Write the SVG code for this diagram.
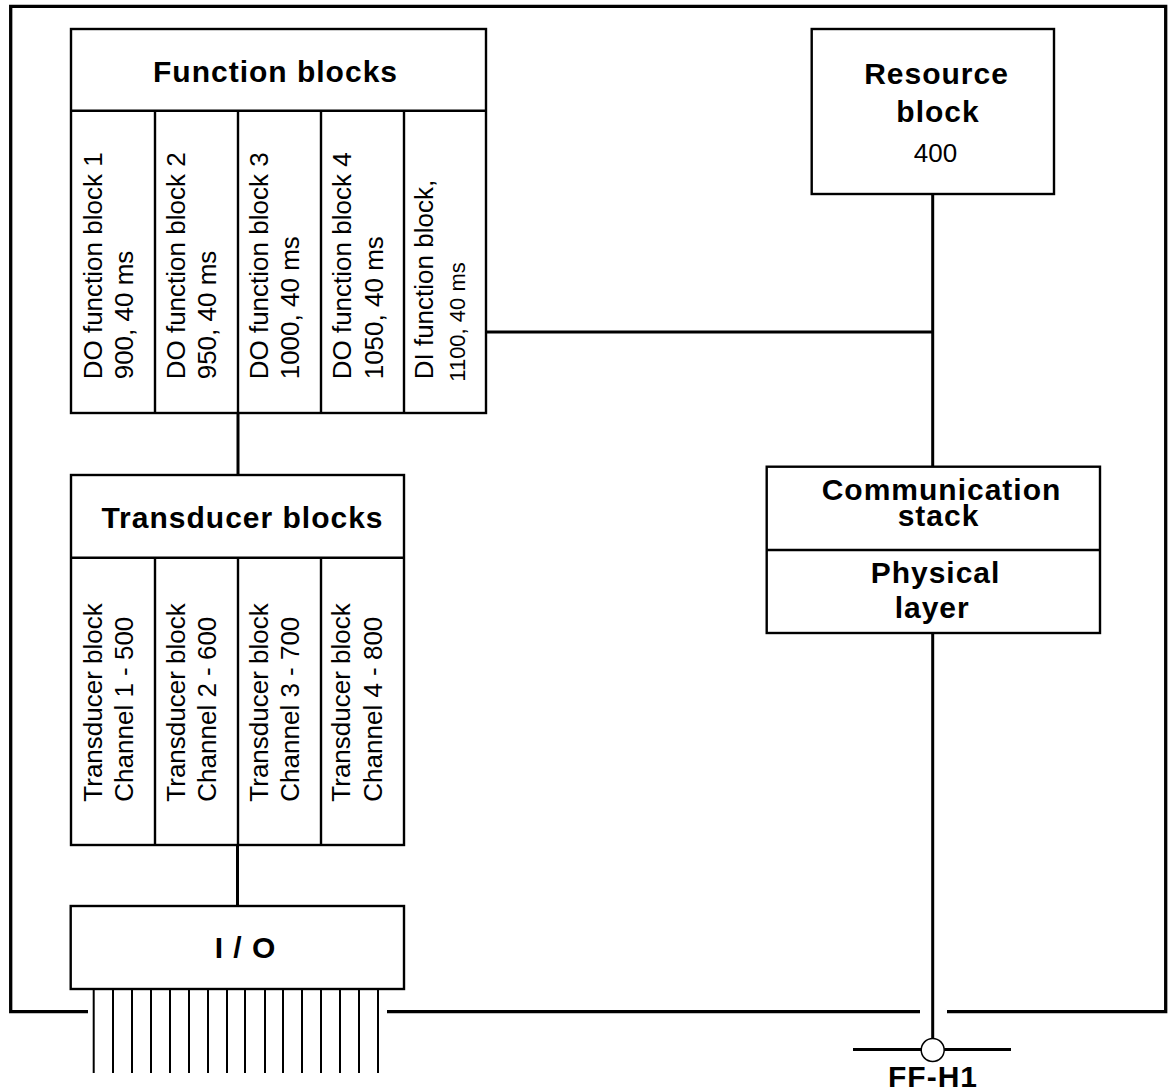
<svg xmlns="http://www.w3.org/2000/svg" width="1169" height="1090" viewBox="0 0 1169 1090">
<style>
.box{fill:#fff;stroke:#000;stroke-width:2.4}
.div{stroke:#000;stroke-width:2.4;fill:none}
.frame{stroke:#000;stroke-width:3.3;fill:none}
.con{stroke:#000;stroke-width:3;fill:none}
.pin{stroke:#000;stroke-width:2}
.h{font-family:"Liberation Sans",Arial,sans-serif;font-weight:bold;font-size:30px;letter-spacing:1px;fill:#000}
.t{font-family:"Liberation Sans",Arial,sans-serif;font-size:26px;fill:#000}
.s{font-family:"Liberation Sans",Arial,sans-serif;font-size:22px;fill:#000}
</style>
<rect width="1169" height="1090" fill="#fff"/>
<g id="frame">
<path class="frame" d="M88,1011.7 H10.7 V6.3 H1165.7 V1011.7 H947"/>
<path class="frame" d="M387,1011.7 H920"/>
</g>
<g id="connectors">
<line class="con" x1="238" y1="413" x2="238" y2="475"/>
<line class="con" x1="237.5" y1="845" x2="237.5" y2="906"/>
<line class="con" x1="486" y1="332" x2="932.7" y2="332"/>
<line class="con" x1="932.7" y1="194" x2="932.7" y2="467"/>
<line class="con" x1="932.7" y1="633" x2="932.7" y2="1038.5"/>
</g>
<g id="function-blocks">
<rect class="box" x="71" y="29" width="415" height="384"/>
<line class="div" x1="71" y1="110.7" x2="486" y2="110.7"/>
<line class="div" x1="155" y1="110.7" x2="155" y2="413"/>
<line class="div" x1="238" y1="110.7" x2="238" y2="413"/>
<line class="div" x1="321" y1="110.7" x2="321" y2="413"/>
<line class="div" x1="404" y1="110.7" x2="404" y2="413"/>
<text class="h" x="275.5" y="81.7" text-anchor="middle">Function blocks</text>
<text class="t" transform="translate(101.7,379.3) rotate(-90)">DO function block 1</text>
<text class="t" transform="translate(132.7,379.3) rotate(-90)">900, 40 ms</text>
<text class="t" transform="translate(185,379.3) rotate(-90)">DO function block 2</text>
<text class="t" transform="translate(216,379.3) rotate(-90)">950, 40 ms</text>
<text class="t" transform="translate(268,379.3) rotate(-90)">DO function block 3</text>
<text class="t" transform="translate(299,379.3) rotate(-90)">1000, 40 ms</text>
<text class="t" transform="translate(351,379.3) rotate(-90)">DO function block 4</text>
<text class="t" transform="translate(382.7,379.3) rotate(-90)">1050, 40 ms</text>
<text class="t" transform="translate(433,379.3) rotate(-90)">DI function block,</text>
<text class="s" transform="translate(465,381.7) rotate(-90)">1100, 40 ms</text>
</g>
<g id="transducer-blocks">
<rect class="box" x="71" y="475" width="333" height="370"/>
<line class="div" x1="71" y1="557.7" x2="404" y2="557.7"/>
<line class="div" x1="155" y1="557.7" x2="155" y2="845"/>
<line class="div" x1="238" y1="557.7" x2="238" y2="845"/>
<line class="div" x1="321" y1="557.7" x2="321" y2="845"/>
<text class="h" x="242.5" y="528.3" text-anchor="middle">Transducer blocks</text>
<text class="t" transform="translate(101.7,801.7) rotate(-90)">Transducer block</text>
<text class="t" transform="translate(132.7,801.7) rotate(-90)">Channel 1 - 500</text>
<text class="t" transform="translate(185,801.7) rotate(-90)">Transducer block</text>
<text class="t" transform="translate(216,801.7) rotate(-90)">Channel 2 - 600</text>
<text class="t" transform="translate(268,801.7) rotate(-90)">Transducer block</text>
<text class="t" transform="translate(299,801.7) rotate(-90)">Channel 3 - 700</text>
<text class="t" transform="translate(350,801.7) rotate(-90)">Transducer block</text>
<text class="t" transform="translate(381.7,801.7) rotate(-90)">Channel 4 - 800</text>
</g>
<g id="io">
<rect class="box" x="70.7" y="906" width="333.3" height="83"/>
<text class="h" x="245.5" y="958" text-anchor="middle">I / O</text>
<g class="pin">
<line x1="93.7" y1="989" x2="93.7" y2="1073"/>
<line x1="113" y1="989" x2="113" y2="1073"/>
<line x1="132" y1="989" x2="132" y2="1073"/>
<line x1="151" y1="989" x2="151" y2="1073"/>
<line x1="170" y1="989" x2="170" y2="1073"/>
<line x1="189" y1="989" x2="189" y2="1073"/>
<line x1="208" y1="989" x2="208" y2="1073"/>
<line x1="227" y1="989" x2="227" y2="1073"/>
<line x1="245" y1="989" x2="245" y2="1073"/>
<line x1="265" y1="989" x2="265" y2="1073"/>
<line x1="283" y1="989" x2="283" y2="1073"/>
<line x1="302" y1="989" x2="302" y2="1073"/>
<line x1="321" y1="989" x2="321" y2="1073"/>
<line x1="340" y1="989" x2="340" y2="1073"/>
<line x1="359" y1="989" x2="359" y2="1073"/>
<line x1="378" y1="989" x2="378" y2="1073"/>
</g>
</g>
<g id="resource-block">
<rect class="box" x="811.7" y="29" width="242.3" height="165"/>
<text class="h" x="936.5" y="84" text-anchor="middle">Resource</text>
<text class="h" x="938" y="121.7" text-anchor="middle">block</text>
<text class="t" x="935.5" y="161.7" text-anchor="middle">400</text>
</g>
<g id="communication">
<rect class="box" x="766.7" y="466.7" width="333.3" height="166.3"/>
<line class="div" x1="766.7" y1="550" x2="1100" y2="550"/>
<text class="h" x="941.5" y="500" text-anchor="middle">Communication</text>
<text class="h" x="938.5" y="526" text-anchor="middle">stack</text>
<text class="h" x="935.5" y="582.7" text-anchor="middle">Physical</text>
<text class="h" x="932.2" y="618" text-anchor="middle">layer</text>
</g>
<g id="ff-h1">
<line class="con" x1="853" y1="1049.5" x2="1011" y2="1049.5"/>
<circle cx="932.7" cy="1050" r="11.5" fill="#fff" stroke="#000" stroke-width="1.5"/>
<text class="h" x="933" y="1087" text-anchor="middle">FF-H1</text>
</g>
</svg>
